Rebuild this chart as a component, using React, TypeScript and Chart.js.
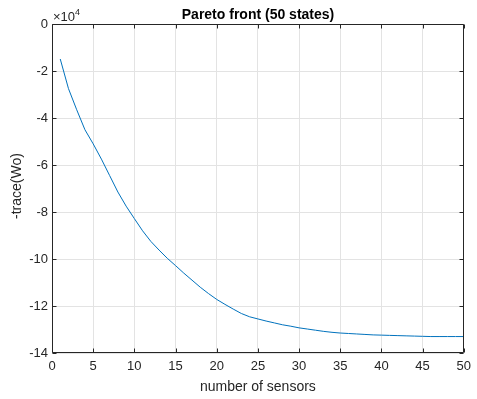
import React, { useEffect, useRef } from "react";
import { Chart, registerables } from "chart.js";

Chart.register(...registerables);

const sensors = [
  1, 2, 3, 4, 5, 6, 7, 8, 9, 10,
  11, 12, 13, 14, 15, 16, 17, 18, 19, 20,
  21, 22, 23, 24, 25, 26, 27, 28, 29, 30,
  31, 32, 33, 34, 35, 36, 37, 38, 39, 40,
  41, 42, 43, 44, 45, 46, 47, 48, 49, 50,
];

const negTrace = [
  -14900, -27500, -36500, -45000, -51000, -57500, -64500, -71500, -77500, -82800,
  -88000, -92500, -96200, -99700, -102800, -106000, -109000, -112000, -114700, -117200,
  -119300, -121300, -123200, -124600, -125500, -126400, -127200, -128000, -128600, -129300,
  -129800, -130300, -130800, -131200, -131500, -131700, -131900, -132100, -132300, -132400,
  -132500, -132600, -132700, -132800, -132900, -133000, -133000, -133000, -133000, -133000,
];

const xTicks = [0, 5, 10, 15, 20, 25, 30, 35, 40, 45, 50];
const yTicks = [0, -20000, -40000, -60000, -80000, -100000, -120000, -140000];

const titleText = "Pareto front (50 states)";
const xLabel = "number of sensors";
const yLabel = "-trace(Wo)";

const FONT = "'Liberation Sans', Arial, Helvetica, sans-serif";
const INK = "#262626";

const decorPlugin = {
  id: "matlabDecor",
  afterDraw(chart: any) {
    const ctx = chart.ctx;
    const { left, right, top, bottom } = chart.chartArea;
    const xs = chart.scales.x;
    const ys = chart.scales.y;
    ctx.save();
    ctx.strokeStyle = INK;
    ctx.lineWidth = 1;
    const L = Math.round(left) + 0.5;
    const R = Math.round(right) - 0.5;
    const T = Math.round(top) + 0.5;
    const B = Math.round(bottom) - 0.5;
    ctx.beginPath();
    ctx.rect(L, T, R - L, B - T);
    ctx.stroke();
    const tl = 4;
    ctx.beginPath();
    xTicks.forEach((v) => {
      const px = Math.round(xs.getPixelForValue(v)) + 0.5;
      ctx.moveTo(px, B);
      ctx.lineTo(px, B - tl);
      ctx.moveTo(px, T);
      ctx.lineTo(px, T + tl);
    });
    yTicks.forEach((v) => {
      const py = Math.round(ys.getPixelForValue(v)) + 0.5;
      ctx.moveTo(L, py);
      ctx.lineTo(L + tl, py);
      ctx.moveTo(R, py);
      ctx.lineTo(R - tl, py);
    });
    ctx.stroke();
    // title
    ctx.fillStyle = "#000";
    ctx.font = `bold 14px ${FONT}`;
    ctx.textAlign = "center";
    ctx.textBaseline = "alphabetic";
    ctx.fillText(titleText, 258, 19);
    // x label
    ctx.fillStyle = INK;
    ctx.font = `14px ${FONT}`;
    ctx.fillText(xLabel, (left + right) / 2, 391);
    // y label
    ctx.save();
    ctx.translate(21, 186);
    ctx.rotate(-Math.PI / 2);
    ctx.fillText(yLabel, 0, 0);
    ctx.restore();
    // exponent
    ctx.textAlign = "left";
    ctx.font = `13px ${FONT}`;
    ctx.fillText("\u00d710", left + 1, 20.5);
    const w = ctx.measureText("\u00d710").width;
    ctx.font = `9px ${FONT}`;
    ctx.fillText("4", left + 1 + w, 15);
    ctx.restore();
  },
};

export default function App() {
  const ref = useRef<HTMLCanvasElement | null>(null);
  useEffect(() => {
    if (!ref.current) return;
    const chart = new Chart(ref.current, {
      type: "line",
      data: {
        datasets: [
          {
            data: sensors.map((s, i) => ({ x: s, y: negTrace[i] })),
            borderColor: "#0072BD",
            borderWidth: 1,
            pointRadius: 0,
            fill: false,
            tension: 0,
          },
        ],
      },
      options: {
        animation: false,
        responsive: false,
        devicePixelRatio: 1,
        layout: { padding: { top: 24, right: 10, left: 0, bottom: 0 } },
        plugins: {
          legend: { display: false },
          title: { display: false },
          tooltip: { enabled: false },
        },
        scales: {
          x: {
            type: "linear",
            min: 0,
            max: 50,
            afterBuildTicks: (scale: any) => {
              scale.ticks = xTicks.map((v) => ({ value: v }));
            },
            afterFit: (scale: any) => {
              scale.height = 46;
            },
            grid: { color: "#e3e3e3", drawTicks: false, lineWidth: 1 },
            border: { display: false },
            ticks: {
              color: INK,
              font: { family: FONT, size: 13 },
              padding: 6,
              maxRotation: 0,
              autoSkip: false,
              callback: (v: any) => String(v),
            },
          },
          y: {
            type: "linear",
            min: -140000,
            max: 0,
            afterBuildTicks: (scale: any) => {
              scale.ticks = yTicks.map((v) => ({ value: v }));
            },
            afterFit: (scale: any) => {
              scale.width = 52;
            },
            grid: { color: "#e3e3e3", drawTicks: false, lineWidth: 1 },
            border: { display: false },
            ticks: {
              color: INK,
              font: { family: FONT, size: 13 },
              padding: 4,
              autoSkip: false,
              callback: (v: any) => String(Math.round(Number(v) / 10000)),
            },
          },
        },
      },
      plugins: [decorPlugin],
    });
    return () => chart.destroy();
  }, []);
  return (
    <div style={{ position: "absolute", left: 0, top: 0, width: 477, height: 399, background: "#fff" }}>
      <canvas ref={ref} width={477} height={399} style={{ display: "block" }} />
    </div>
  );
}
